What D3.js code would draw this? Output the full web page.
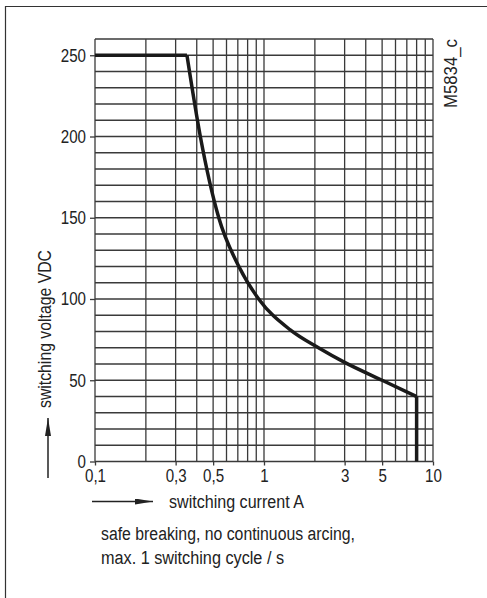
<!DOCTYPE html>
<html>
<head>
<meta charset="utf-8">
<script src="https://cdn.jsdelivr.net/npm/d3@7"></script>
<style>
  body { margin: 0; background: #fff; }
  text { font-family: "Liberation Sans Narrow", "Arial Narrow", "Liberation Sans", sans-serif; fill: #222; }
</style>
</head>
<body>
<div id="chart"></div>
<script>
// curve: current A, voltage VDC
var current = [0.1, 0.35, 0.42, 0.54, 0.71, 0.93, 1.43, 2.1, 3, 5, 8]
var voltage = [250, 250, 200, 150, 120, 100, 81, 70, 61, 50, 40]
var cutoffCurrent = [8, 8]
var cutoffVoltage = [40, 0]

var xGrid = [0.1, 0.2, 0.3, 0.4, 0.5, 0.6, 0.7, 0.8, 0.9, 1, 2, 3, 4, 5, 6, 7, 8, 9, 10]
var xTicks = [0.1, 0.3, 0.5, 1, 3, 5, 10]
var xTickLabels = ["0,1", "0,3", "0,5", "1", "3", "5", "10"]
var yTicks = [0, 50, 100, 150, 200, 250]

var W = 487, H = 598
var margin = {top: 39, left: 95}
var plotW = 338, plotH = 422.5
var narrow = 0.84   // the original uses a condensed face

var svg = d3.select("#chart").append("svg")
    .attr("width", W).attr("height", H)

// squeeze a text to look condensed (or to a given width)
function condense(sel, w) {
    sel.each(function() {
        var len = this.getComputedTextLength()
        d3.select(this).attr("textLength", w ? w : len * narrow)
            .attr("lengthAdjust", "spacingAndGlyphs")
    })
}

// frame (only top and left visible)
svg.append("path")
    .attr("d", "M5.5," + H + "V6.5H" + W)
    .style("fill", "none").style("stroke", "#333").style("stroke-width", 1.2)

var x = d3.scaleLog().domain([0.1, 10]).range([margin.left, margin.left + plotW])
var y = d3.scaleLinear().domain([0, 260]).range([margin.top + plotH, margin.top])

var grid = svg.append("g").attr("id", "grid")
    .style("stroke", "#3a3a3a").style("stroke-width", 1.3)

grid.selectAll(".hl").data(d3.range(0, 261, 10)).enter().append("line")
    .attr("x1", x(0.1)).attr("x2", x(10))
    .attr("y1", d => y(d)).attr("y2", d => y(d))

grid.selectAll(".vl").data(xGrid).enter().append("line")
    .attr("x1", d => x(d)).attr("x2", d => x(d))
    .attr("y1", y(0)).attr("y2", y(260))

// y axis ticks + labels
var yAxis = d3.axisLeft(y).tickValues(yTicks).tickSize(5).tickPadding(4)
var gy = svg.append("g").attr("transform", "translate(" + x(0.1) + ",0)").call(yAxis)
gy.select(".domain").remove()
gy.selectAll("line").style("stroke", "#3a3a3a").style("stroke-width", 1.3)
gy.selectAll("text").style("font-size", "18px").style("fill", "#222")
    .style("font-family", "'Liberation Sans Narrow', 'Arial Narrow', 'Liberation Sans', sans-serif")
    .call(condense)

// x axis ticks + labels
var xAxis = d3.axisBottom(x).tickValues(xTicks)
    .tickFormat((d, i) => xTickLabels[i]).tickSize(4).tickPadding(4)
var gx = svg.append("g").attr("transform", "translate(0," + y(0) + ")").call(xAxis)
gx.select(".domain").remove()
gx.selectAll("line").style("stroke", "#3a3a3a").style("stroke-width", 1.3)
gx.selectAll("text").style("font-size", "18px").style("fill", "#222")
    .style("font-family", "'Liberation Sans Narrow', 'Arial Narrow', 'Liberation Sans', sans-serif")
    .call(condense)

// characteristic curve
var pts = current.map((c, i) => [c, voltage[i]])
var line = d3.line().x(d => x(d[0])).y(d => y(d[1]))
svg.append("path")
    .attr("d", line.curve(d3.curveLinear)(pts.slice(0, 2)))
    .style("fill", "none").style("stroke", "#1a1a1a").style("stroke-width", 3.5)
svg.append("path")
    .attr("d", line.curve(d3.curveMonotoneX)(pts.slice(1)))
    .style("fill", "none").style("stroke", "#1a1a1a").style("stroke-width", 3.5)
svg.append("path")
    .attr("d", line.curve(d3.curveLinear)(cutoffCurrent.map((c, i) => [c, cutoffVoltage[i]])))
    .style("fill", "none").style("stroke", "#1a1a1a").style("stroke-width", 3.5)

// arrows
svg.append("defs").append("marker")
    .attr("id", "arrow").attr("viewBox", "0 0 18 6")
    .attr("refX", 18).attr("refY", 3)
    .attr("markerWidth", 18).attr("markerHeight", 6)
    .attr("markerUnits", "userSpaceOnUse").attr("orient", "auto")
  .append("path").attr("d", "M0,0L18,3L0,6Z").style("fill", "#222")

svg.append("line")
    .attr("x1", 92).attr("x2", 153).attr("y1", 501.5).attr("y2", 501.5)
    .style("stroke", "#222").style("stroke-width", 1.5).attr("marker-end", "url(#arrow)")
svg.append("line")
    .attr("x1", 48).attr("x2", 48).attr("y1", 478).attr("y2", 418)
    .style("stroke", "#222").style("stroke-width", 1.5).attr("marker-end", "url(#arrow)")

// axis titles
svg.append("text")
    .attr("x", 169).attr("y", 508)
    .style("font-size", "18px")
    .text("switching current A")
    .call(condense, 135)

svg.append("text")
    .attr("transform", "translate(51,408) rotate(-90)")
    .style("font-size", "18px")
    .text("switching voltage VDC")
    .call(condense, 158)

svg.append("text")
    .attr("transform", "translate(457,108) rotate(-90)")
    .style("font-size", "18px")
    .text("M5834_c")
    .call(condense, 69)

var notes = ["safe breaking, no continuous arcing,", "max. 1 switching cycle / s"]
var noteWidths = [254, 183]
svg.selectAll(".note").data(notes).enter().append("text")
    .attr("x", 101).attr("y", (d, i) => 540 + i * 24)
    .style("font-size", "18px")
    .text(d => d)
    .each(function(d, i) { d3.select(this).call(condense, noteWidths[i]) })
</script>
</body>
</html>
